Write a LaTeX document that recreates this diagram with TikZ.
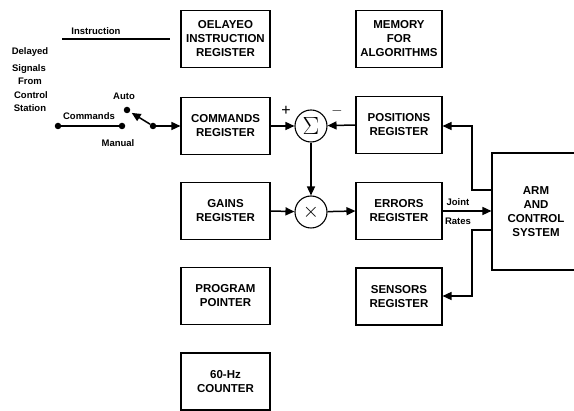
\documentclass[tikz,border=0pt]{standalone}
\usepackage{fontspec}
\setmainfont{Liberation Sans}
\usetikzlibrary{arrows.meta,calc}
\begin{document}
\begin{tikzpicture}[x=1pt,y=-1pt,
  reg/.style={draw, line width=1.1pt, minimum width=89pt, minimum height=57pt, inner sep=0pt,
    align=center, font=\fontsize{11.5}{14}\selectfont\bfseries},
  lbl/.style={font=\fontsize{9.5}{11}\selectfont\bfseries, inner sep=0pt},
  op/.style={draw, circle, line width=1.1pt, minimum size=32pt, inner sep=0pt},
  conn/.style={line width=1.5pt},
  arr/.style={line width=1.5pt, -{Triangle[length=9pt,width=8pt]}},
  dot/.style={circle, fill, inner sep=0pt, minimum size=6.5pt}
]
\clip (0,0) rectangle (574,411);
\fill[white] (0,0) rectangle (574,411);

% left column
\node[reg] (dir) at (225.5,39) {OELAYEO\\INSTRUCTION\\REGISTER};
\node[reg] (cmd) at (225.5,126) {COMMANDS\\REGISTER};
\node[reg] (gain) at (225.5,211) {GAINS\\REGISTER};
\node[reg] (prog) at (225.5,296) {PROGRAM\\POINTER};
\node[reg] (cnt) at (225.5,381.5) {60-Hz\\COUNTER};

% right column
\node[reg, minimum width=86pt] (mem) at (399,39) {MEMORY\\FOR\\ALGORITHMS};
\node[reg, minimum width=86pt] (pos) at (399,125) {POSITIONS\\REGISTER};
\node[reg, minimum width=86pt] (err) at (399,211) {ERRORS\\REGISTER};
\node[reg, minimum width=86pt] (sen) at (399,296.5) {SENSORS\\REGISTER};

% arm
\node[reg, minimum width=88pt, minimum height=117pt, text width=80pt] (arm) at (536,211.5) {ARM\\AND\\CONTROL\\SYSTEM};

% operators
\node[op, font=\fontsize{26}{26}\selectfont] (sum) at (311,126) {$\Sigma$};
\node[op, font=\fontsize{20}{20}\selectfont] (mul) at (311,212) {$\times$};
\node[font=\fontsize{16}{16}\selectfont] (plus) at (286,111) {+};
\node[font=\fontsize{14}{14}\selectfont] (minus) at (337,111) {$-$};

% instruction
\node[lbl] (instr) at (96,31) {Instruction};
\coordinate (i1) at (62,39);
\coordinate (i2) at (170,39);
\draw[line width=2.2pt] (i1) -- (i2);

% delayed signals text
\node[lbl] (t1) at (30,52) {Delayed};
\node[lbl] (t2) at (29,69) {Signals};
\node[lbl] (t3) at (30,81) {From};
\node[lbl] (t4) at (31,95) {Control};
\node[lbl] (t5) at (30,108) {Station};

% switch
\node[dot] (d1) at (58,126) {};
\node[dot] (d2) at (122,126) {};
\node[dot] (da) at (127,110) {};
\node[dot] (dp) at (153,126) {};
\node[lbl] (lc) at (89,116) {Commands};
\node[lbl] (la) at (124,96) {Auto};
\node[lbl] (lm) at (118,143) {Manual};
\draw[conn] (d1) -- (d2);
\coordinate (tip) at ($(da)!0.18!(dp)$);
\draw[arr] (dp) -- (tip);
\draw[arr] (dp) -- (dp -| cmd.west);

% signal flow
\draw[arr] (cmd.east) -- (sum);
\draw[arr] (pos.west) -- (sum);
\draw[arr] (sum) -- (mul);
\draw[arr] (gain.east) -- (mul);
\draw[arr] (mul) -- (err.west);
\draw[arr] (err.east) -- (arm.west |- err.east);
\node[lbl] (jt) at (458,202) {Joint};
\node[lbl] (rt) at (458,221) {Rates};

\coordinate (a1) at (arm.west |- 0,190);
\coordinate (a2) at (472,190);
\coordinate (a3) at (472,126);
\draw[arr] (a1) -- (a2) -- (a3) -- (a3 -| pos.east);
\coordinate (b1) at (arm.west |- 0,230);
\coordinate (b2) at (472,230);
\coordinate (b3) at (472,296);
\draw[arr] (b1) -- (b2) -- (b3) -- (b3 -| sen.east);
\end{tikzpicture}
\end{document}
